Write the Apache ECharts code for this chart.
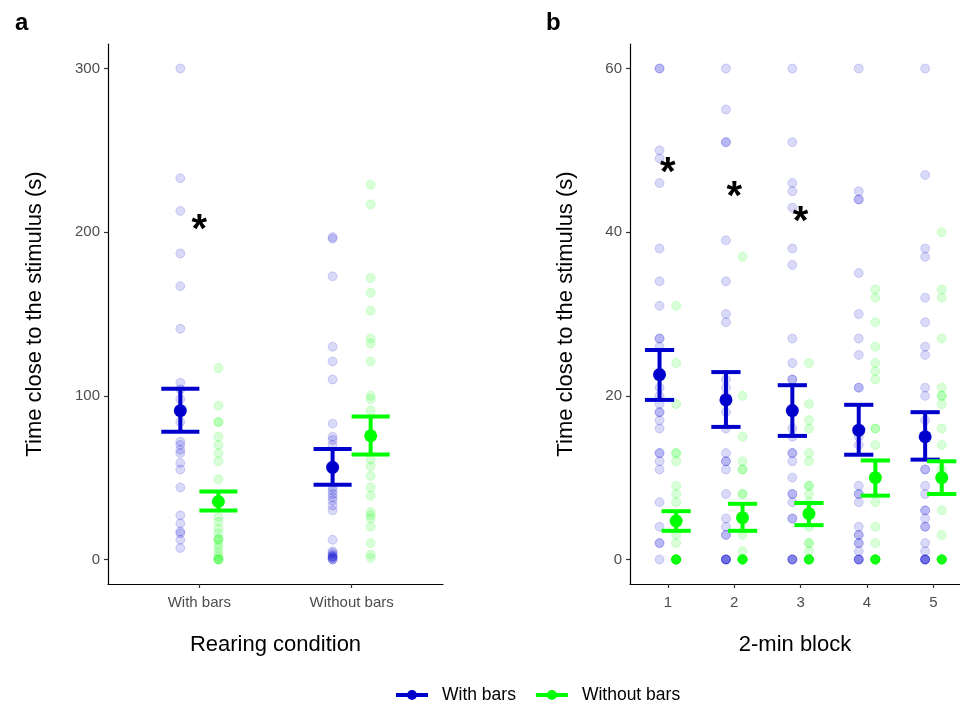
<!DOCTYPE html>
<html>
<head>
<meta charset="utf-8">
<script src="https://cdn.jsdelivr.net/npm/echarts@6/dist/echarts.min.js"></script>
<style>
  html, body { margin: 0; padding: 0; background: #fff; }
  #chart { width: 960px; height: 710px; }
</style>
</head>
<body>
<div id="chart"></div>
<script>
// ---- data ----
const seriesNames = ['With bars', 'Without bars'];
const rearingLabels = ['With bars', 'Without bars'];
const blockLabels = ['1', '2', '3', '4', '5'];

// Panel a: total time close to the stimulus (s), one list per rearing condition
const totalBlue = [
  [300, 233, 213, 187, 167, 141, 108, 104, 98, 90, 84, 72, 70, 67, 65, 59, 55, 44, 27, 22, 17, 16, 12, 7],
  [197, 196, 173, 130, 121, 110, 83, 75, 73, 70, 44, 42, 40, 38, 36, 33, 30, 12, 5, 4, 3, 2, 2, 1, 1, 0, 0]
];
const totalGreen = [
  [117, 94, 84, 84, 75, 70, 65, 60, 49, 26, 23, 19, 16, 13, 12, 12, 9, 7, 4, 2, 0, 0, 0, 0],
  [229, 217, 172, 163, 152, 135, 132, 121, 100, 98, 91, 61, 57, 51, 44, 39, 29, 27, 25, 20, 10, 3, 1]
];
const totalMeanBlue = [90.9, 56.3];
const totalLowBlue = [78.0, 45.7];
const totalHighBlue = [104.3, 67.5];
const totalMeanGreen = [35.4, 75.6];
const totalLowGreen = [29.9, 64.2];
const totalHighGreen = [41.5, 87.4];
const totalStars = [[1, 205]];

// Panel b: time close to the stimulus (s) per 2-min block
const blockBlue = [
  [60, 60, 50, 49, 46, 38, 34, 31, 27, 27, 26, 21, 20, 19, 18, 18, 17, 16, 13, 13, 12, 11, 7, 4, 2, 2, 0],
  [60, 55, 51, 51, 39, 34, 30, 29, 22, 21, 20, 18, 16, 13, 12, 12, 11, 8, 5, 4, 3, 3, 0, 0, 0, 0, 0],
  [60, 51, 46, 45, 43, 38, 36, 27, 24, 22, 22, 16, 15, 13, 13, 12, 10, 8, 8, 7, 5, 5, 0, 0, 0, 0],
  [60, 45, 44, 44, 35, 30, 27, 25, 21, 21, 16, 15, 14, 9, 8, 8, 7, 4, 3, 3, 2, 2, 1, 0, 0, 0, 0],
  [60, 47, 38, 37, 32, 29, 26, 25, 21, 20, 17, 11, 11, 9, 8, 6, 6, 5, 4, 4, 2, 1, 0, 0, 0, 0, 0]
];
const blockGreen = [
  [31, 24, 19, 13, 13, 12, 9, 8, 7, 3, 2, 0, 0, 0, 0, 0, 0, 0, 0, 0, 0, 0, 0, 0, 0, 0, 0],
  [37, 20, 15, 12, 11, 11, 8, 8, 3, 1, 0, 0, 0, 0, 0, 0, 0, 0, 0, 0, 0, 0, 0, 0, 0, 0, 0],
  [24, 19, 17, 16, 13, 12, 9, 9, 8, 7, 4, 2, 2, 1, 0, 0, 0, 0, 0, 0, 0, 0, 0, 0, 0, 0, 0],
  [33, 32, 29, 26, 24, 23, 22, 16, 16, 14, 7, 4, 2, 0, 0, 0, 0, 0, 0, 0, 0, 0, 0, 0, 0, 0, 0],
  [40, 33, 32, 27, 21, 20, 20, 19, 16, 14, 11, 6, 3, 0, 0, 0, 0, 0, 0, 0, 0, 0, 0, 0, 0, 0, 0]
];
const blockMeanBlue = [22.6, 19.5, 18.2, 15.8, 15.0];
const blockLowBlue = [19.5, 16.2, 15.1, 12.8, 12.2];
const blockHighBlue = [25.6, 22.9, 21.3, 18.9, 18.0];
const blockMeanGreen = [4.7, 5.1, 5.6, 10.0, 10.0];
const blockLowGreen = [3.5, 3.5, 4.2, 7.8, 8.0];
const blockHighGreen = [5.9, 6.8, 6.9, 12.1, 12.0];
const blockStars = [[1, 48], [2, 45], [3, 42]];

const totalTicks = [0, 100, 200, 300];
const blockTicks = [0, 20, 40, 60];

// ---- styling ----
const BLUE = '#0000CD';
const GREEN = '#00FF00';
const FONT = '"Liberation Sans", Arial, sans-serif';
const DODGE = 0.125;

const rawPoints = (groups, shift) => {
  const out = [];
  groups.forEach((vals, i) => vals.forEach(v => out.push([i + 1 + shift, v])));
  return out;
};
const summary = (means, lows, highs, shift) =>
  means.map((m, i) => [i + 1 + shift, m, lows[i], highs[i]]);

function errorBarSeries(name, data, color, capWidth, axisIdx) {
  return {
    name: name, type: 'custom', xAxisIndex: axisIdx, yAxisIndex: axisIdx,
    data: data, z: 5, silent: true,
    encode: { x: 0, y: [2, 3] },
    renderItem: (params, api) => {
      const x = api.value(0);
      const lo = api.coord([x, api.value(2)]);
      const hi = api.coord([x, api.value(3)]);
      const l = api.coord([x - capWidth / 2, 0])[0];
      const r = api.coord([x + capWidth / 2, 0])[0];
      const st = { stroke: color, lineWidth: 4 };
      return {
        type: 'group', children: [
          { type: 'line', shape: { x1: lo[0], y1: lo[1], x2: hi[0], y2: hi[1] }, style: st },
          { type: 'line', shape: { x1: l, y1: lo[1], x2: r, y2: lo[1] }, style: st },
          { type: 'line', shape: { x1: l, y1: hi[1], x2: r, y2: hi[1] }, style: st }
        ]
      };
    }
  };
}

function rawSeries(name, data, color, axisIdx) {
  return {
    name: name, type: 'scatter', xAxisIndex: axisIdx, yAxisIndex: axisIdx,
    data: data, symbolSize: 9, z: 2, silent: true,
    itemStyle: { color: color, opacity: 0.15, borderColor: color, borderWidth: 1 }
  };
}

function meanSeries(name, data, color, axisIdx) {
  return {
    name: name, type: 'scatter', xAxisIndex: axisIdx, yAxisIndex: axisIdx,
    data: data.map(d => [d[0], d[1]]), symbolSize: 13, z: 6,
    itemStyle: { color: color, opacity: 1 }
  };
}

// significance asterisks, anchored at a data position
function starSeries(data, axisIdx) {
  return {
    type: 'custom', xAxisIndex: axisIdx, yAxisIndex: axisIdx, data: data, z: 7, silent: true,
    renderItem: (params, api) => {
      const p = api.coord([api.value(0), api.value(1)]);
      return {
        type: 'text', x: p[0], y: p[1] + 7,
        style: { text: '*', fill: '#000', font: 'bold 40px ' + FONT, align: 'center', verticalAlign: 'middle' }
      };
    }
  };
}

const axisLineStyle = { show: true, onZero: false, lineStyle: { color: '#000', width: 1.2 } };
const tickStyle = { show: true, length: 4, lineStyle: { color: '#333', width: 1.2 } };
const tickLabel = { color: '#4D4D4D', fontSize: 15, fontFamily: FONT };
const nameStyle = { color: '#000', fontSize: 22, fontFamily: FONT };

function xAxis(gridIndex, min, max, labels, title) {
  const vals = labels.map((_, i) => i + 1);
  return {
    type: 'value', gridIndex: gridIndex, min: min, max: max,
    splitLine: { show: false },
    axisLine: axisLineStyle,
    axisTick: Object.assign({ customValues: vals }, tickStyle),
    axisLabel: Object.assign({ customValues: vals, margin: 11, formatter: v => labels[Math.round(v) - 1] }, tickLabel),
    name: title, nameLocation: 'middle', nameGap: 50, nameTextStyle: nameStyle
  };
}

function yAxis(gridIndex, min, max, ticks, gap) {
  return {
    type: 'value', gridIndex: gridIndex, min: min, max: max,
    splitLine: { show: false },
    axisLine: axisLineStyle,
    axisTick: Object.assign({ customValues: ticks }, tickStyle),
    axisLabel: Object.assign({ customValues: ticks, margin: 8 }, tickLabel),
    name: 'Time close to the stimulus (s)', nameLocation: 'middle', nameGap: gap,
    nameRotate: 90, nameTextStyle: nameStyle
  };
}

const legendIcon = 'path://M0,4 L32,4 L32,8 L0,8 Z M16,1 A5,5 0 1,1 15.99,1 Z';

const option = {
  animation: false,
  backgroundColor: '#fff',
  textStyle: { fontFamily: FONT },
  title: [
    { text: 'a', left: 10, top: 6, textStyle: { fontSize: 24, fontWeight: 'bold', color: '#000', fontFamily: FONT } },
    { text: 'b', left: 541, top: 6, textStyle: { fontSize: 24, fontWeight: 'bold', color: '#000', fontFamily: FONT } }
  ],
  legend: {
    bottom: 1, left: 391, orient: 'horizontal', itemGap: 20,
    itemWidth: 32, itemHeight: 12, icon: legendIcon,
    textStyle: { color: '#000', fontSize: 17.5, fontFamily: FONT, padding: [0, 0, 0, 9] },
    selectedMode: false,
    data: [
      { name: seriesNames[0], itemStyle: { color: BLUE, opacity: 1 } },
      { name: seriesNames[1], itemStyle: { color: GREEN, opacity: 1 } }
    ]
  },
  grid: [
    { left: 108, top: 44, width: 335, height: 540 },
    { left: 630, top: 44, width: 330, height: 540 }
  ],
  xAxis: [
    xAxis(0, 0.4, 2.6, rearingLabels, 'Rearing condition'),
    xAxis(1, 0.43, 5.4, blockLabels, '2-min block')
  ],
  yAxis: [
    yAxis(0, -15, 315, totalTicks, 62),
    yAxis(1, -3, 63, blockTicks, 53)
  ],
  series: [
    rawSeries('raw-a-blue', rawPoints(totalBlue, -DODGE), BLUE, 0),
    rawSeries('raw-a-green', rawPoints(totalGreen, DODGE), GREEN, 0),
    errorBarSeries('se-a-blue', summary(totalMeanBlue, totalLowBlue, totalHighBlue, -DODGE), BLUE, 0.25, 0),
    errorBarSeries('se-a-green', summary(totalMeanGreen, totalLowGreen, totalHighGreen, DODGE), GREEN, 0.25, 0),
    meanSeries(seriesNames[0], summary(totalMeanBlue, totalLowBlue, totalHighBlue, -DODGE), BLUE, 0),
    meanSeries(seriesNames[1], summary(totalMeanGreen, totalLowGreen, totalHighGreen, DODGE), GREEN, 0),
    starSeries(totalStars, 0),

    rawSeries('raw-b-blue', rawPoints(blockBlue, -DODGE), BLUE, 1),
    rawSeries('raw-b-green', rawPoints(blockGreen, DODGE), GREEN, 1),
    errorBarSeries('se-b-blue', summary(blockMeanBlue, blockLowBlue, blockHighBlue, -DODGE), BLUE, 0.44, 1),
    errorBarSeries('se-b-green', summary(blockMeanGreen, blockLowGreen, blockHighGreen, DODGE), GREEN, 0.44, 1),
    meanSeries(seriesNames[0], summary(blockMeanBlue, blockLowBlue, blockHighBlue, -DODGE), BLUE, 1),
    meanSeries(seriesNames[1], summary(blockMeanGreen, blockLowGreen, blockHighGreen, DODGE), GREEN, 1),
    starSeries(blockStars, 1)
  ]
};

const chart = echarts.init(document.getElementById('chart'), null, { renderer: 'canvas' });
chart.setOption(option);
</script>
</body>
</html>
